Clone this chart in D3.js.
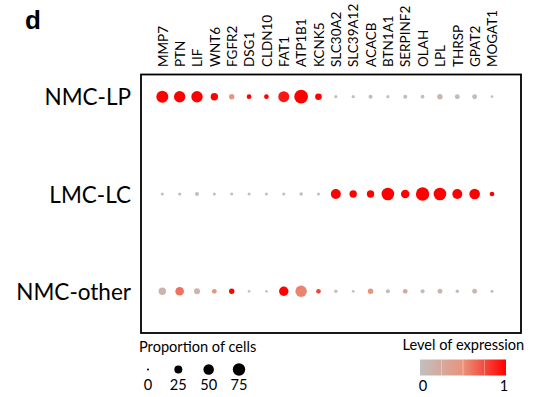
<!DOCTYPE html>
<html>
<head>
<meta charset="utf-8">
<script src="https://cdn.jsdelivr.net/npm/d3@7"></script>
<style>
  html, body { margin: 0; padding: 0; background: #fff; }
  svg { display: block; font-family: Lato, "Open Sans", sans-serif; }
</style>
</head>
<body>
<svg id="chart" width="540" height="397"></svg>
<script>
// Genes (columns) and cell groups (rows)
const genes = ["MMP7", "PTN", "LIF", "WNT6", "FGFR2", "DSG1", "CLDN10", "FAT1", "ATP1B1", "KCNK5",
               "SLC30A2", "SLC39A12", "ACACB", "BTN1A1", "SERPINF2", "OLAH", "LPL", "THRSP", "GPAT2", "MOGAT1"];
const groups = ["NMC-LP", "LMC-LC", "NMC-other"];

// Proportion of cells expressing each gene (%), one array per group
const pctNMCLP    = [69, 61, 61, 20, 8, 5, 5, 56, 95, 15, 1, 1, 3, 1, 3, 2, 8, 6, 6, 0.3];
const pctLMCLC    = [1, 1, 3, 0.7, 0.7, 0.7, 0.7, 1, 1.5, 0.7, 44, 20, 20, 78, 30, 90, 78, 44, 52, 5];
const pctNMCother = [20, 30, 11, 5, 8, 0.3, 0.3, 38, 61, 5, 1.4, 0.3, 8, 3, 5, 3, 6, 1.4, 6, 0.7];

// Scaled level of expression (0–1), one array per group
const exprNMCLP    = [1, 1, 1, 1, 0.45, 1, 1, 0.92, 1, 1, 0, 0, 0.03, 0, 0.03, 0.03, 0.12, 0.05, 0.05, 0];
const exprLMCLC    = [0, 0, 0.02, 0, 0, 0, 0, 0, 0.02, 0, 1, 1, 1, 1, 1, 1, 1, 1, 1, 1];
const exprNMCother = [0.15, 0.62, 0.15, 0.5, 1, 0, 0, 1, 0.55, 0.78, 0.02, 0, 0.5, 0.03, 0.25, 0.03, 0.12, 0.03, 0.12, 0];

// Legend values
const sizeLegend = [0, 25, 50, 75];
const colorLegendTicks = [0, 1];

const pct = [pctNMCLP, pctLMCLC, pctNMCother];
const expr = [exprNMCLP, exprLMCLC, exprNMCother];
const cells = [];
groups.forEach((g, i) => genes.forEach((gene, j) => {
  cells.push({ group: g, gene, pct: pct[i][j], expr: expr[i][j] });
}));

const svg = d3.select("#chart");

const box = { left: 141, right: 521, top: 74.5, bottom: 333 };

const x = d3.scalePoint().domain(genes).range([162.3, 492]);
const y = d3.scalePoint().domain(groups).range([96.7, 291.3]);
const r = d3.scaleSqrt().domain([0, 100]).range([1, 7]);
const colorStops = [0, 0.5, 1];
const colorRange = ["#c0c0c0", "#e9937a", "#ff0000"];
const color = d3.scaleLinear().domain(colorStops).range(colorRange).interpolate(d3.interpolateRgb);

// Panel letter
svg.append("text")
  .attr("x", 25).attr("y", 29)
  .attr("font-family", "Arial, 'Liberation Sans', sans-serif")
  .attr("font-weight", "bold").attr("font-size", 26)
  .text("d");

// Frame
svg.append("rect")
  .attr("x", box.left).attr("y", box.top)
  .attr("width", box.right - box.left).attr("height", box.bottom - box.top)
  .attr("fill", "none").attr("stroke", "#000").attr("stroke-width", 1.8);

// Gene labels (top, rotated)
const topAxis = d3.axisTop(x).tickSize(0).tickPadding(0);
const gTop = svg.append("g").attr("transform", `translate(0,67)`).call(topAxis);
gTop.select(".domain").remove();
gTop.selectAll("text")
  .attr("transform", "rotate(-90)")
  .attr("text-anchor", "start")
  .attr("x", 0).attr("y", 0).attr("dy", "0.35em")
  .attr("font-family", "Lato, sans-serif")
  .attr("font-size", 13.5).attr("fill", "#000");

// Group labels (left)
const leftAxis = d3.axisLeft(y).tickSize(0).tickPadding(0);
const gLeft = svg.append("g").attr("transform", `translate(131,0)`).call(leftAxis);
gLeft.select(".domain").remove();
gLeft.selectAll("text")
  .attr("font-family", "Lato, sans-serif")
  .attr("font-size", 22.5).attr("fill", "#000").attr("dy", "0.36em");

// Dots
svg.append("g").selectAll("circle")
  .data(cells)
  .join("circle")
  .attr("cx", d => x(d.gene))
  .attr("cy", d => y(d.group))
  .attr("r", d => r(d.pct))
  .attr("fill", d => color(d.expr));

// Size legend
svg.append("text")
  .attr("x", 139).attr("y", 352)
  .attr("font-size", 14.6).text("Proportion of cells");
const sx = d3.scalePoint().domain(sizeLegend).range([148, 239]);
const sl = svg.append("g");
sl.selectAll("circle").data(sizeLegend).join("circle")
  .attr("cx", d => sx(d)).attr("cy", 369.5)
  .attr("r", d => d === 0 ? 1 : r(d))
  .attr("fill", "#000");
sl.selectAll("text").data(sizeLegend).join("text")
  .attr("x", d => sx(d)).attr("y", 390)
  .attr("text-anchor", "middle").attr("font-size", 14.6)
  .text(d => d);

// Colour legend
svg.append("text")
  .attr("x", 402.5).attr("y", 350)
  .attr("font-size", 14.6).text("Level of expression");
const defs = svg.append("defs");
const grad = defs.append("linearGradient").attr("id", "exprGrad");
grad.selectAll("stop").data(colorStops).join("stop")
  .attr("offset", d => d * 100 + "%")
  .attr("stop-color", d => color(d));
const cb = { x0: 420, x1: 506, y0: 359.5, y1: 375.5 };
svg.append("rect")
  .attr("x", cb.x0).attr("y", cb.y0)
  .attr("width", cb.x1 - cb.x0).attr("height", cb.y1 - cb.y0)
  .attr("fill", "url(#exprGrad)");
const cx = d3.scaleLinear().domain([0, 1]).range([cb.x0, cb.x1]);
svg.append("g").selectAll("line").data([0.25, 0.5, 0.75]).join("line")
  .attr("x1", d => cx(d)).attr("x2", d => cx(d))
  .attr("y1", cb.y0).attr("y2", cb.y1)
  .attr("stroke", "#fff").attr("stroke-opacity", 0.35).attr("stroke-width", 1);
svg.append("g").selectAll("text").data(colorLegendTicks).join("text")
  .attr("x", d => cx(d) + (d === 0 ? 3 : -2)).attr("y", 391)
  .attr("text-anchor", "middle").attr("font-size", 14.6)
  .text(d => d);
</script>
</body>
</html>
